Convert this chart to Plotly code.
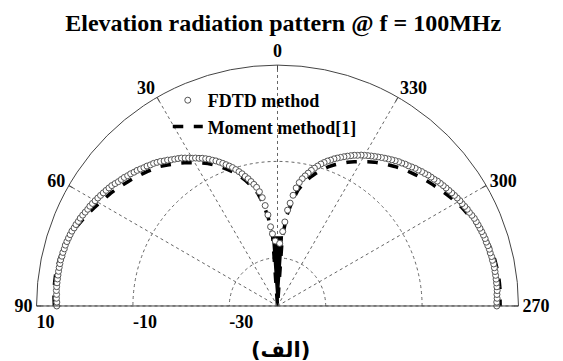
import plotly.graph_objects as go

# ---------------- data (dB vs elevation angle, degrees) ----------------
fdtd_left_theta = list(range(90, 4, -1)) + [4, 2]
fdtd_left_db = [5.8, 5.8, 5.9, 5.9, 6.0, 6.0, 6.0, 6.0, 6.0, 6.0,
                6.0, 6.0, 6.0, 5.9, 5.9, 5.8, 5.8, 5.7, 5.6, 5.5,
                5.4, 5.2, 5.1, 4.9, 4.8, 4.6, 4.4, 4.2, 4.1, 3.9,
                3.7, 3.5, 3.3, 3.1, 2.9, 2.7, 2.5, 2.2, 1.9, 1.7,
                1.5, 1.2, 1.0, 0.7, 0.5, 0.2, -0.1, -0.3, -0.6, -0.8,
                -1.1, -1.4, -1.8, -2.1, -2.5, -2.8, -3.1, -3.4, -3.8, -4.2,
                -4.6, -4.9, -5.3, -5.6, -6.0, -6.4, -6.9, -7.3, -7.8, -8.3,
                -8.8, -9.3, -9.8, -10.4, -11.0, -11.6, -12.3, -12.9, -13.6, -14.3,
                -15.0, -16.0, -17.3, -19.0, -21.0, -23.5, -25.0, -26.5]

fdtd_right_theta = list(range(270, 356)) + [356, 358]
fdtd_right_db = [5.5, 5.5, 5.6, 5.6, 5.7, 5.7, 5.7, 5.7, 5.7, 5.7,
                 5.7, 5.7, 5.6, 5.6, 5.5, 5.5, 5.4, 5.3, 5.3, 5.2,
                 5.1, 5.0, 4.9, 4.8, 4.7, 4.5, 4.3, 4.2, 4.0, 3.8,
                 3.7, 3.5, 3.3, 3.1, 2.9, 2.7, 2.5, 2.3, 2.1, 1.8,
                 1.6, 1.4, 1.1, 0.9, 0.6, 0.4, 0.1, -0.2, -0.4, -0.7,
                 -0.9, -1.2, -1.5, -1.8, -2.1, -2.4, -2.7, -3.0, -3.3, -3.6,
                 -3.9, -4.2, -4.6, -4.9, -5.3, -5.7, -6.1, -6.5, -6.9, -7.3,
                 -7.8, -8.2, -8.7, -9.2, -9.8, -10.4, -11.0, -11.7, -12.4, -13.1,
                 -14.0, -15.2, -16.8, -18.5, -20.0, -22.5, -24.5, -27.0]

moment_theta = [90, 88, 86, 84, 82, 80, 78, 76, 74, 72, 70, 68, 66, 64, 62, 60,
                58, 56, 54, 52, 50, 48, 46, 44, 42, 40, 38, 36, 34, 32, 30,
                28, 26, 24, 22, 20, 18, 16, 14, 12, 10, 8, 6, 4, 0,
                356, 354, 352, 350, 348, 346, 344, 342, 340, 338, 336, 334, 332,
                330, 328, 326, 324, 322, 320, 318, 316, 314, 312, 310, 308, 306,
                304, 302, 300, 298, 296, 294, 292, 290, 288, 286, 284, 282, 280,
                278, 276, 274, 272, 270]
moment_db = [6.3, 6.4, 6.5, 6.5, 6.5, 6.4, 6.3, 6.1, 5.8, 5.5, 5.1, 4.7, 4.2, 3.7, 3.2, 2.7,
             2.2, 1.8, 1.3, 0.8, 0.3, -0.2, -0.7, -1.2, -1.7, -2.2, -2.9, -3.6, -4.2, -4.9, -5.7,
             -6.4, -7.1, -8.0, -8.9, -9.9, -10.9, -12.0, -13.3, -14.7, -16.2, -18.5, -21.5, -25.5, -40.0,
             -25.5, -21.0, -18.0, -15.6, -14.0, -12.6, -11.4, -10.3, -9.3, -8.4, -7.6, -6.8, -6.1,
             -5.4, -4.7, -4.0, -3.4, -2.8, -2.2, -1.6, -1.1, -0.6, -0.1, 0.4, 0.9, 1.4,
             1.9, 2.4, 2.9, 3.4, 3.8, 4.3, 4.7, 5.1, 5.4, 5.7, 5.9, 6.1, 6.2,
             6.3, 6.3, 6.3, 6.2, 6.2]

null_theta = [4, 0, 356]
null_db = [-25.5, -40.0, -25.5]

# 270/300/330 are the same directions as -90/-60/-30
angle_ticks = [0, 30, 60, 90, -90, -60, -30]
angle_labels = ["0", "30", "60", "90", "270", "300", "330"]
radial_ticks = [-30, -10, 10]
radial_labels = ["-30", "-10", "10"]
radial_range = [-40, 10]

title_text = "Elevation radiation pattern @ f = 100MHz"
caption_text = "(الف)"

SERIF = "Liberation Serif"

fig = go.Figure()

fig.add_trace(go.Scatterpolar(
    theta=moment_theta, r=moment_db, mode="lines",
    name="Moment method[1]", legendrank=2,
    line=dict(color="black", width=3.5, dash="dash"),
))
fig.add_trace(go.Scatterpolar(
    theta=null_theta, r=null_db, mode="lines", fill="toself",
    fillcolor="black", line=dict(color="black", width=1.5),
    showlegend=False, hoverinfo="skip",
))
fig.add_trace(go.Scatterpolar(
    theta=fdtd_left_theta + fdtd_right_theta,
    r=fdtd_left_db + fdtd_right_db,
    mode="markers", name="FDTD method", legendrank=1,
    marker=dict(symbol="circle", size=6, color="white",
                line=dict(color="#555", width=1)),
))

fig.update_layout(
    width=563, height=361,
    margin=dict(l=0, r=0, t=0, b=0),
    paper_bgcolor="white",
    title=dict(text=title_text, x=0.503, xanchor="center",
               y=1 - 23 / 361, yanchor="middle", yref="container",
               font=dict(family=SERIF, size=24, color="black", weight="bold")),
    polar=dict(
        domain=dict(x=[0.0648, 0.9210], y=[0.1524, 0.8199]),
        sector=[0, 180],
        bgcolor="white",
        angularaxis=dict(
            rotation=90, direction="counterclockwise",
            tickmode="array", tickvals=angle_ticks, ticktext=angle_labels,
            showline=True, linecolor="#444", linewidth=1,
            ticks="inside", ticklen=4, tickcolor="#444",
            showgrid=True, gridcolor="#666", gridwidth=1.2, griddash="dot",
            tickfont=dict(family=SERIF, size=18, color="black", weight="bold"),
        ),
        radialaxis=dict(
            range=radial_range, angle=180, side="counterclockwise",
            tickangle=180,
            tickmode="array", tickvals=radial_ticks, ticktext=radial_labels,
            showline=False, ticks="",
            showgrid=True, gridcolor="#666", gridwidth=1.2, griddash="dot",
            tickfont=dict(family=SERIF, size=18, color="black", weight="bold"),
        ),
    ),
    showlegend=True,
    legend=dict(x=0.298, y=1 - 82 / 361, xanchor="left", yanchor="top",
                bgcolor="rgba(0,0,0,0)", itemwidth=30,
                font=dict(family=SERIF, size=18, color="black", weight="bold")),
    annotations=[dict(text=caption_text, x=280 / 563, y=1 - 350 / 361,
                      xref="paper", yref="paper", showarrow=False,
                      xanchor="center", yanchor="middle",
                      font=dict(family="DejaVu Sans", size=21, color="black",
                                weight="bold"))],
)

fig.write_html("out.html")
